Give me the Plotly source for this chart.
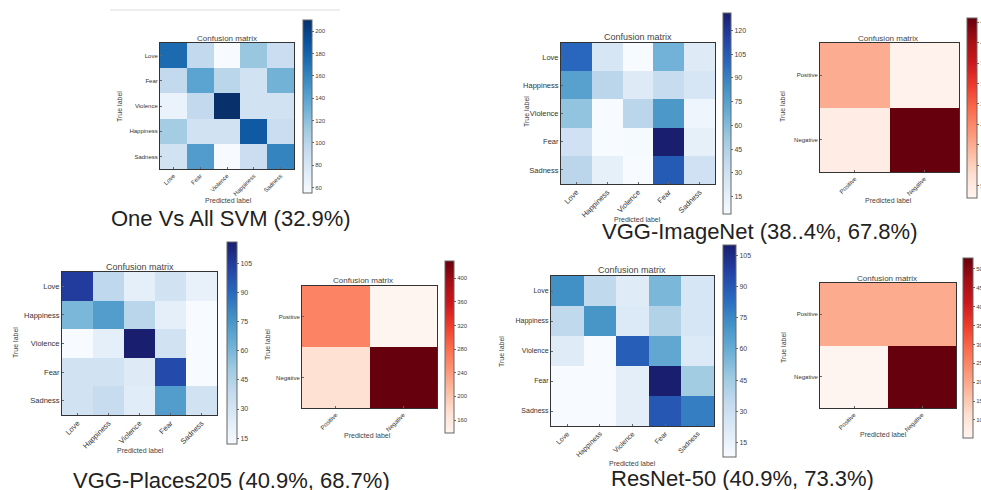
import plotly.graph_objects as go

W, H = 981, 490

# ---------------- data ----------------
svm_labels = ["Love", "Fear", "Violence", "Happiness", "Sadness"]
svm_values = [
    [175, 95, 55, 115, 90],
    [95, 140, 100, 85, 130],
    [65, 95, 210, 85, 85],
    [110, 85, 85, 185, 90],
    [85, 145, 55, 90, 160],
]
svm_ticks = [60, 80, 100, 120, 140, 160, 180, 200]

emo_labels = ["Love", "Happiness", "Violence", "Fear", "Sadness"]

imagenet_values = [
    [100, 25, 4, 65, 20],
    [75, 40, 20, 35, 25],
    [55, 4, 40, 80, 10],
    [30, 4, 5, 131, 15],
    [40, 15, 4, 105, 30],
]
imagenet_ticks = [15, 30, 45, 60, 75, 90, 105, 120]

places_values = [
    [105, 40, 22, 32, 20],
    [60, 72, 42, 22, 12],
    [12, 22, 116, 32, 12],
    [32, 32, 25, 100, 12],
    [32, 37, 24, 72, 32],
]
places_ticks = [15, 30, 45, 60, 75, 90, 105]

resnet_values = [
    [72, 35, 20, 55, 25],
    [35, 70, 22, 40, 25],
    [20, 8, 88, 62, 22],
    [8, 8, 18, 110, 45],
    [8, 8, 18, 90, 78],
]
resnet_ticks = [15, 30, 45, 60, 75, 90, 105]

bin_labels = ["Positive", "Negative"]
imagenet_bin = [[150, 30], [40, 460]]
imagenet_bin_ticks = [50, 100, 150, 200, 250, 300, 350, 400, 450]
places_bin = [[260, 138], [173, 429]]
places_bin_ticks = [160, 200, 240, 280, 320, 360, 400]
resnet_bin = [[19.5, 19.5], [5.2, 52.9]]
resnet_bin_ticks = [10, 15, 20, 25, 30, 35, 40, 45, 50]

captions = [
    "One Vs All SVM (32.9%)",
    "VGG-ImageNet (38..4%, 67.8%)",
    "VGG-Places205 (40.9%, 68.7%)",
    "ResNet-50 (40.9%, 73.3%)",
]

# ---------------- styles ----------------
blues_std = [
    [0, "rgb(247,251,255)"], [0.125, "rgb(222,235,247)"], [0.25, "rgb(198,219,239)"],
    [0.375, "rgb(158,202,225)"], [0.5, "rgb(107,174,214)"], [0.625, "rgb(66,146,198)"],
    [0.75, "rgb(33,113,181)"], [0.875, "rgb(8,81,156)"], [1, "rgb(8,48,107)"],
]
blues_navy = [
    [0, "rgb(247,251,255)"], [0.125, "rgb(222,235,247)"], [0.25, "rgb(198,219,239)"],
    [0.375, "rgb(158,202,225)"], [0.5, "rgb(107,174,214)"], [0.625, "rgb(66,146,198)"],
    [0.75, "rgb(40,105,190)"], [0.875, "rgb(35,65,165)"], [1, "rgb(25,30,110)"],
]
reds = [
    [0, "rgb(255,245,240)"], [0.125, "rgb(254,224,210)"], [0.25, "rgb(252,187,161)"],
    [0.375, "rgb(252,146,114)"], [0.5, "rgb(251,106,74)"], [0.625, "rgb(239,59,44)"],
    [0.75, "rgb(203,24,29)"], [0.875, "rgb(165,15,21)"], [1, "rgb(103,0,13)"],
]

FAM = "Liberation Sans, Arial, sans-serif"

def px(x):
    return x / W

def py(y):
    return 1 - y / H

# panel geometry (pixels): plot box, colorbar box, title / label positions
panels = [
    dict(lab=svm_labels, z=svm_values, cs=blues_std, zr=(55, 210), ticks=svm_ticks,
         box=(160, 294, 43, 169), cb=(303, 9, 20, 193),
         title=(227, 39), tl=(120, 107), pl=(228, 200), tickfs=6, tfs=8, cbfs=6),
    dict(lab=emo_labels, z=imagenet_values, cs=blues_navy, zr=(4, 131), ticks=imagenet_ticks,
         box=(561, 715, 43, 184), cb=(723, 8, 13, 214),
         title=(638, 37), tl=(527, 112), pl=(637, 219), tickfs=7.5, tfs=9, cbfs=7),
    dict(lab=bin_labels, z=imagenet_bin, cs=reds, zr=(20, 460), ticks=imagenet_bin_ticks,
         box=(820, 959, 43, 172), cb=(967, 10, 18, 198),
         title=(888, 39), tl=(783, 107), pl=(888, 200), tickfs=6, tfs=8, cbfs=6),
    dict(lab=emo_labels, z=places_values, cs=blues_navy, zr=(12, 116), ticks=places_ticks,
         box=(62, 217, 272, 415), cb=(227, 10, 242, 444),
         title=(140, 267), tl=(15, 343), pl=(140, 450), tickfs=7.5, tfs=9, cbfs=7),
    dict(lab=bin_labels, z=places_bin, cs=reds, zr=(138, 429), ticks=places_bin_ticks,
         box=(302, 437, 286, 408), cb=(445, 9, 261, 433),
         title=(363, 280), tl=(267, 345), pl=(367, 435), tickfs=6, tfs=8, cbfs=6),
    dict(lab=emo_labels, z=resnet_values, cs=blues_navy, zr=(8, 110), ticks=resnet_ticks,
         box=(551, 714, 276, 426), cb=(723, 13, 245, 457),
         title=(632, 270), tl=(501, 352), pl=(632, 463), tickfs=7, tfs=9, cbfs=7),
    dict(lab=bin_labels, z=resnet_bin, cs=reds, zr=(5.2, 52.9), ticks=resnet_bin_ticks,
         box=(820, 956, 283, 408), cb=(963, 10, 258, 438),
         title=(887, 278), tl=(783, 348), pl=(883, 434), tickfs=6, tfs=8, cbfs=6),
]

fig = go.Figure()
layout = dict(
    width=W, height=H,
    margin=dict(l=0, r=0, t=0, b=0, autoexpand=False),
    paper_bgcolor="white", plot_bgcolor="white",
    template="none", showlegend=False,
)
annotations = []

def note(x, y, text, size, color="#444", angle=0):
    annotations.append(dict(x=px(x), y=py(y), xref="paper", yref="paper",
                            xanchor="center", yanchor="middle",
                            text=text, showarrow=False, textangle=angle,
                            font=dict(family=FAM, size=size, color=color)))

for i, p in enumerate(panels, start=1):
    sfx = "" if i == 1 else str(i)
    x0, x1, y0, y1 = p["box"]
    cbx, cbw, cbt, cbb = p["cb"]
    fig.add_trace(go.Heatmap(
        z=p["z"], x=p["lab"], y=p["lab"],
        xaxis="x" + sfx, yaxis="y" + sfx,
        coloraxis="coloraxis" + sfx,
        hoverinfo="skip",
    ))
    layout["coloraxis" + sfx] = dict(
        colorscale=p["cs"], cmin=p["zr"][0], cmax=p["zr"][1],
        colorbar=dict(
            x=px(cbx), xanchor="left", y=py(cbt), yanchor="top",
            len=(cbb - cbt) / H, lenmode="fraction",
            thickness=cbw, thicknessmode="pixels",
            xpad=0, ypad=0, outlinewidth=1, outlinecolor="#666",
            tickvals=p["ticks"], ticks="outside", ticklen=2, tickcolor="#666",
            tickfont=dict(family=FAM, size=p["cbfs"], color="#444"),
        ),
    )
    axcommon = dict(
        showline=True, mirror=True, linecolor="#333", linewidth=1,
        showgrid=False, zeroline=False, automargin=False,
        ticks="inside", ticklen=2, tickcolor="#666",
        tickfont=dict(family=FAM, size=p["tickfs"], color="#333"),
    )
    layout["xaxis" + sfx] = dict(axcommon, domain=[px(x0), px(x1)], anchor="y" + sfx,
                                 tickangle=-45)
    layout["yaxis" + sfx] = dict(axcommon, domain=[py(y1), py(y0)], anchor="x" + sfx,
                                 autorange="reversed")
    note(*p["title"], "Confusion matrix", p["tfs"])
    note(*p["tl"], "True label", 7, angle=-90)
    note(*p["pl"], "Predicted label", 7)

caption_pos = [(231, 218), (759, 231), (231, 480), (742, 478)]
for text, (cx, cy) in zip(captions, caption_pos):
    note(cx, cy, text, 22, color="#222")

layout["annotations"] = annotations
layout["shapes"] = [dict(type="line", xref="paper", yref="paper",
                         x0=px(110), x1=px(340), y0=py(10), y1=py(10),
                         line=dict(color="#ddd", width=1))]
fig.update_layout(**layout)
fig.write_html("out.html", config={"displayModeBar": False},
               post_script="document.body.style.margin='0';document.body.style.overflow='hidden';")
